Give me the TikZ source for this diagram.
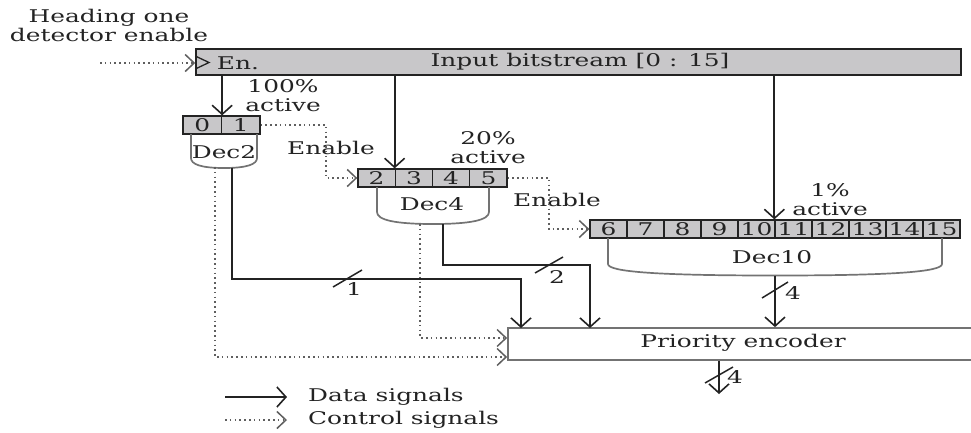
\documentclass[tikz,border=0pt]{standalone}
\usepackage{fontspec}
\setmainfont{DejaVu Serif}
\usepackage{graphicx}
\usetikzlibrary{arrows.meta,calc}
\definecolor{cellgray}{RGB}{200,199,201}
\definecolor{ink}{RGB}{35,35,35}
\definecolor{outl}{RGB}{115,115,115}
\definecolor{dotc}{RGB}{95,95,95}
\newcommand{\wt}[1]{\scalebox{1.42}[1]{#1}}
\begin{document}
\begin{tikzpicture}[x=1pt,y=-1pt,
  lbl/.style={inner sep=0pt, font=\fontsize{17.5}{19}\selectfont, text=ink, align=center},
  cell/.style={draw=ink, line width=1.3pt, fill=cellgray, minimum height=18pt, inner sep=0pt, font=\fontsize{17.5}{19}\selectfont, text=ink},
  decbody/.style={draw=outl, line width=1.7pt},
  data/.style={draw=ink, line width=1.8pt, -{Straight Barb[length=9pt,width=20pt,line width=1.6pt]}},
  ctrl/.style={draw=dotc, line width=1.6pt, dash pattern=on 1.5pt off 3.3pt, -{Straight Barb[length=9pt,width=17pt,line width=1.5pt]}},
  slash/.style={draw=ink, line width=1.5pt}
]
\useasboundingbox (0,0) rectangle (971,432);
\clip (0,0) rectangle (971,432);

% heading text
\node[lbl, anchor=north] (head) at (109,9) {\wt{Heading one}\\\wt{detector enable}};

% input bitstream box
\node[draw=ink, line width=1.5pt, fill=cellgray, minimum width=765pt, minimum height=26pt, inner sep=0pt] (inbox) at (578.5,62) {};
\node[lbl] (intext) at (580,61.5) {\wt{Input bitstream [0 : 15]}};
\node[lbl] (en) at (238,63) {\wt{En.}};
\draw[ink, line width=1.3pt] (inbox.west |- 0,56) -- (209,62.5) -- (inbox.west |- 0,69);
\coordinate (enin) at (100,63);
\draw[ctrl] (enin) -- (inbox.west |- enin);

% Dec2 cells
\foreach \i/\x in {0/202.25, 1/240.75}
  \node[cell, minimum width=38.5pt] (d2c\i) at (\x,125) {\wt{\i}};
% Dec4 cells
\foreach \i/\x in {2/376.6, 3/413.9, 4/451.1, 5/488.4}
  \node[cell, minimum width=37.25pt] (d4c\i) at (\x,178) {\wt{\i}};
% Dec10 cells
\foreach \i [evaluate=\i as \x using 608.5+37*(\i-6)] in {6,...,15}
  \node[cell, minimum width=37pt] (d10c\i) at (\x,229) {\wt{\i}};

% decoder bodies
\draw[decbody] (191,134) -- (191,158) .. controls (191,164) and (200,168) .. (224,168) .. controls (248,168) and (257,164) .. (257,158) -- (257,134);
\draw[decbody] (377,187) -- (377,212) .. controls (377,220) and (395,224) .. (433,224) .. controls (471,224) and (489,220) .. (489,212) -- (489,187);
\draw[decbody] (608,238) -- (608,264) .. controls (608,272) and (660,275.5) .. (775,275.5) .. controls (890,275.5) and (942,272) .. (942,264) -- (942,238);
\node[lbl] (dec2) at (224,152) {\wt{Dec2}};
\node[lbl] (dec4) at (432,204) {\wt{Dec4}};
\node[lbl] (dec10) at (772,257) {\wt{Dec10}};

% activity labels
\node[lbl] (act100) at (283,96) {\wt{100\%}\\\wt{active}};
\node[lbl] (act20) at (488,148) {\wt{20\%}\\\wt{active}};
\node[lbl] (act1) at (830,200) {\wt{1\%}\\\wt{active}};

% input to decoders
\draw[data] (d2c0.north east |- inbox.south) -- (d2c0.north east);
\draw[data] (d4c3.north west |- inbox.south) -- (d4c3.north west);
\draw[data] (d10c11.north west |- inbox.south) -- (d10c11.north west);

% enable chains
\node[lbl] (en1) at (331,148) {\wt{Enable}};
\node[lbl] (en2) at (557,200) {\wt{Enable}};
\draw[ctrl] (d2c1.east) -- (326,125) |- (d4c2.west);
\draw[ctrl] (d4c5.east) -- (549,178) |- (d10c6.west);

% priority encoder
\node[draw=outl, line width=1.7pt, minimum width=467pt, minimum height=32pt, inner sep=0pt] (pe) at (741.5,344) {};
\node[lbl] (petext) at (743,343) {\wt{Priority encoder}};

% decoder outputs (data)
\coordinate (d2out) at (232,167.5);
\coordinate (d4out) at (443,224);
\coordinate (d10out) at (775,275.5);
\coordinate (pe1) at (521,328);
\coordinate (pe2) at (590,328);
\draw[data] (d2out) -- (232,279) -| (pe1);
\draw[data] (d4out) -- (443,265) -| (pe2);
\draw[data] (d10out) -- (d10out |- pe.north);

% decoder outputs (control)
\coordinate (d2ctl) at (215,167);
\coordinate (d4ctl) at (420,224);
\draw[ctrl] (d2ctl) -- (215,357) -- (pe.west |- 0,357);
\draw[ctrl] (d4ctl) -- (420,338) -- (pe.west |- 0,338);

% output
\coordinate (peout) at (719,394);
\draw[data] (pe.south -| peout) -- (peout);

% bus width marks
\draw[slash] (333,287) -- (362,270);
\node[lbl] (w1) at (354,289) {\wt{1}};
\draw[slash] (535,273) -- (563,257);
\node[lbl] (w2) at (557,277) {\wt{2}};
\draw[slash] (762,298) -- (788,282);
\node[lbl] (w4a) at (793,293) {\wt{4}};
\draw[slash] (705,383) -- (733,367);
\node[lbl] (w4b) at (735,377) {\wt{4}};

% legend
\coordinate (l1s) at (225,397);
\coordinate (l1e) at (287,397);
\coordinate (l2s) at (225,420);
\coordinate (l2e) at (287,420);
\draw[data] (l1s) -- (l1e);
\draw[ctrl] (l2s) -- (l2e);
\node[lbl, anchor=west] (leg1) at (308,397) {\wt{Data signals}};
\node[lbl, anchor=west] (leg2) at (308,420) {\wt{Control signals}};
\end{tikzpicture}
\end{document}
